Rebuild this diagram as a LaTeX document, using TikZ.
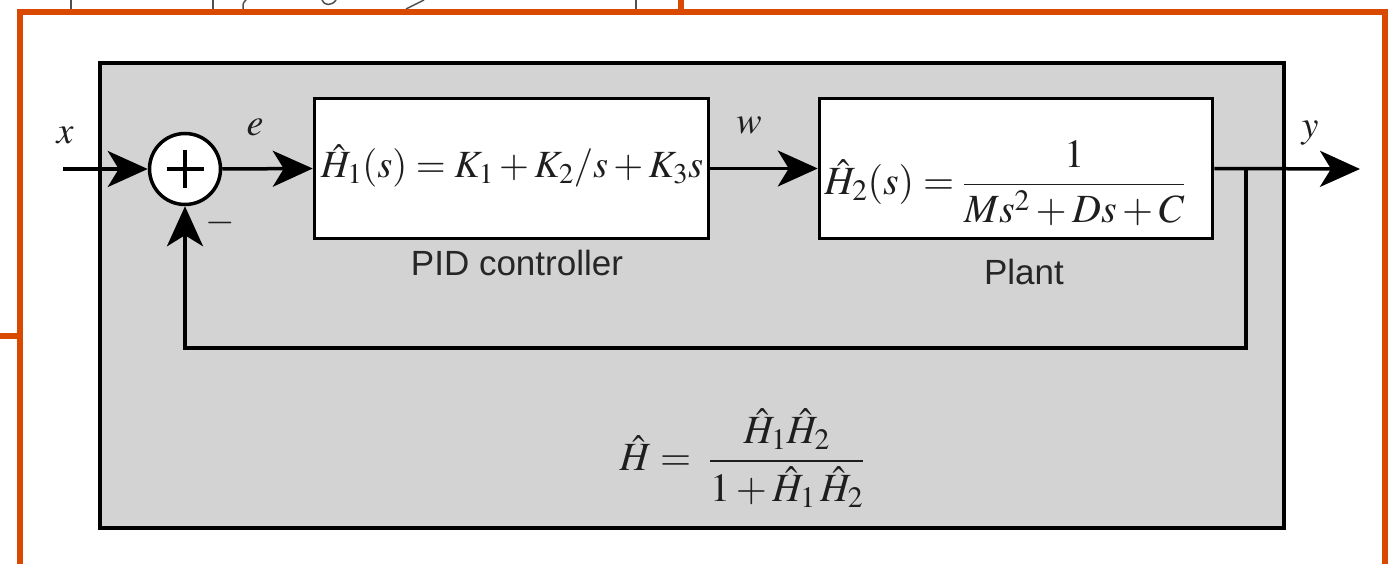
\documentclass[tikz,border=0pt]{standalone}
\usepackage{mathptmx}
\usepackage{fontspec}
\setmainfont{Liberation Serif}
\setsansfont{Liberation Sans}
\usetikzlibrary{arrows.meta}
\definecolor{frameor}{RGB}{217,74,0}
\definecolor{panel}{RGB}{211,211,211}
\definecolor{ink}{RGB}{30,30,30}
\definecolor{frag}{RGB}{80,80,80}
\begin{document}
\begin{tikzpicture}[x=1pt,y=-1pt,
  arr/.style={line width=3.5pt,-{Stealth[length=40pt,width=36pt,inset=11pt]}},
  wire/.style={line width=3.5pt,line join=miter},
  blockbox/.style={draw,fill=white,line width=3.5pt,inner sep=0pt},
  lbl/.style={inner sep=0pt,font=\fontsize{38}{44}\selectfont,text=ink},
  capt/.style={inner sep=0pt,font=\sffamily\fontsize{35}{40}\selectfont,text=black!85,anchor=base},
  eq/.style={inner sep=0pt,font=\fontsize{40}{48}\selectfont,text=ink},
  orangeline/.style={draw=frameor,line width=6pt},
  fragline/.style={draw=frag,line width=1.5pt}
]
\useasboundingbox (0,0) rectangle (1395,564);
% fragments of a figure above
\draw[fragline] (71,0) -- (71,9);
\draw[fragline] (213,0) -- (213,9);
\draw[fragline] (636,0) -- (636,9);
\draw[fragline] (246,0) .. controls (243,3) .. (243,9);
\draw[fragline] (322,0) .. controls (324,6) and (332,6) .. (336,0);
\draw[fragline] (406,9) -- (424,0);
% orange frame
\draw[orangeline] (20,564) -- (20,12) -- (1384.5,12) -- (1384.5,564);
\draw[orangeline] (0,336) -- (20,336);
\draw[orangeline] (681,0) -- (681,12);
% gray panel
\node[draw,fill=panel,line width=4pt,minimum width=1184pt,minimum height=465pt,inner sep=0pt] (panel) at (692,295.5) {};
% blocks
\node[blockbox,minimum width=394pt,minimum height=140pt] (h1) at (511.5,168.5) {};
\node[blockbox,minimum width=393pt,minimum height=140pt] (h2) at (1016,168.5) {};
\node[draw,fill=white,circle,line width=3.5pt,minimum size=71pt,inner sep=0pt] (sum) at (185,169) {};
\draw[wire] ([xshift=-18.5pt]sum.center) -- ([xshift=18.5pt]sum.center);
\draw[wire] ([yshift=-19pt]sum.center) -- ([yshift=19pt]sum.center);
% formulas
\node[eq,font=\fontsize{38.5}{46}\selectfont] (h1eq) at (512,166) {$\hat{H}_1(s) = K_1 + K_2/s + K_3s$};
\node[eq] (h2eq) at (1005,183) {$\displaystyle\hat{H}_2(s) = \frac{1}{Ms^2 + Ds + C}$};
\node[eq] (htot) at (742,458) {$\displaystyle\hat{H} = \;\frac{\hat{H}_1\hat{H}_2}{1+\hat{H}_1\,\hat{H}_2}$};
% captions
\node[capt] (pidc) at (517,275) {PID controller};
\node[capt] (plantc) at (1024,284) {Plant};
% signal labels
\node[lbl] (lx) at (65,135) {$x$};
\node[lbl] (le) at (255,127) {$e$};
\node[lbl] (lw) at (749,126) {$w$};
\node[lbl] (ly) at (1310,133) {$y$};
\node[lbl] (lminus) at (220,223) {$-$};
% connectors
\coordinate (in) at (63,169);
\coordinate (out) at (1360,169);
\coordinate (br) at (1246,169);
\coordinate (fbr) at (1246,348);
\coordinate (fbl) at (185,348);
\draw[arr] (in) -- (sum.west);
\draw[arr] (sum.east) -- (h1.west);
\draw[arr] (h1.east) -- (h2.west);
\draw[arr] (h2.east) -- (out);
\draw[arr,line join=miter] (br) -- (fbr) -- (fbl) -- (sum.south);
\end{tikzpicture}
\end{document}
